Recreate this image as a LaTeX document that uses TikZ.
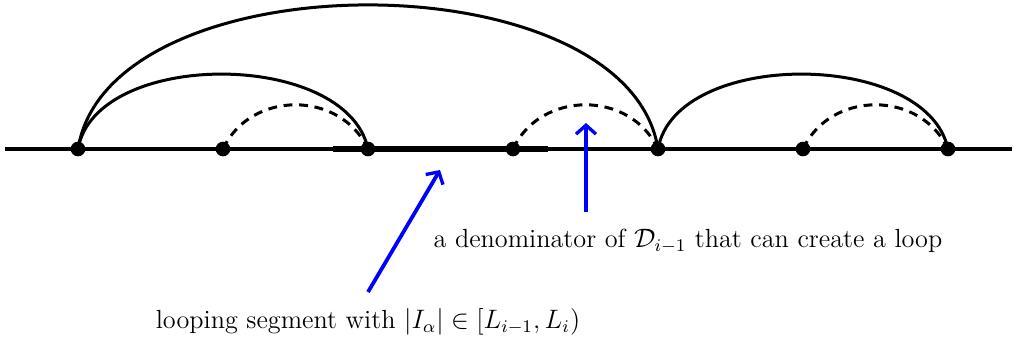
\documentclass[tikz,border=0pt]{standalone}
\usetikzlibrary{arrows.meta}
\begin{document}
\begin{tikzpicture}[x=0.45pt,y=-0.45pt,
  dot/.style={circle,fill=black,inner sep=0pt,minimum size=6.6pt},
  axis/.style={line width=1.4pt},
  seg/.style={line width=2.9pt},
  arc/.style={line width=1.35pt},
  darc/.style={line width=1.35pt,dash pattern=on 4pt off 3pt},
  pointer/.style={blue,line width=1.7pt,-{Straight Barb[length=4pt,width=9pt,line width=1.5pt]}},
  lbl/.style={font=\fontsize{11.8}{14}\selectfont,inner sep=0pt}]
\useasboundingbox (0,0) rectangle (1015,341);
\coordinate (L) at (5,149);
\coordinate (R) at (1012,149);
\coordinate (s1) at (333,149);
\coordinate (s2) at (548,149);
\draw[axis] (L) -- (R);
\draw[seg] (s1) -- (s2);
\foreach \i/\x in {1/78,2/223,3/368,4/513,5/658,6/803,7/948}
  \node[dot] (p\i) at (\x,149) {};
\draw[arc] (p1.center) to[out=81,in=99,looseness=0.86] (p5.center);
\draw[arc] (p1.center) to[out=80,in=102,looseness=0.9] (p3.center);
\draw[arc] (p5.center) to[out=80,in=102,looseness=0.9] (p7.center);
\draw[darc] (p2.center) to[out=65,in=115,looseness=1.15] (p3.center);
\draw[darc] (p4.center) to[out=65,in=115,looseness=1.15] (p5.center);
\draw[darc] (p6.center) to[out=65,in=115,looseness=1.15] (p7.center);
\node[lbl] (t1) at (688,241) {a denominator of $\mathcal{D}_{i-1}$ that can create a loop};
\node[lbl] (t2) at (368,322) {looping segment with $|I_\alpha|\in[L_{i-1},L_i)$};
\coordinate (a1s) at (586,212);
\coordinate (a1e) at (586,123);
\coordinate (a2s) at (368,292);
\coordinate (a2e) at (440,170);
\draw[pointer] (a2s) -- (a2e);
\draw[pointer] (a1s) -- (a1e);
\end{tikzpicture}
\end{document}
